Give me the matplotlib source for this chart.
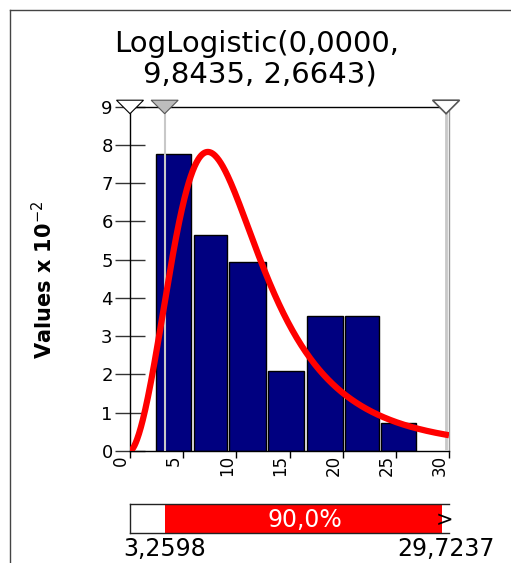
import matplotlib
matplotlib.use("Agg")
import matplotlib.pyplot as plt
import numpy as np
from matplotlib.lines import Line2D
from matplotlib.patches import Polygon
from matplotlib.transforms import blended_transform_factory, offset_copy

# fitted distribution parameters (from the title)
gamma_ = 0.0
beta_ = 9.8435
alpha_ = 2.6643

# histogram (values x 10^-2)
bin_edges = [2.35, 5.88, 9.22, 12.89, 16.51, 20.13, 23.47, 26.97]
bar_heights = [7.76, 5.65, 4.95, 2.09, 3.53, 3.53, 0.72]

# delimiters
left_mark = 3.2598
right_mark = 29.7237
mid_pct = 90.0

x_ticks = [0, 5, 10, 15, 20, 25, 30]
y_ticks = [0, 1, 2, 3, 4, 5, 6, 7, 8, 9]


def comma(v, nd=4):
    return f"{v:.{nd}f}".replace('.', ',')


plt.rcParams['font.family'] = ['DejaVu Sans']

fig = plt.figure(figsize=(5.11, 5.63), dpi=100)
ax = fig.add_axes([130 / 511, 1 - 451 / 563, 319 / 511, 344.3 / 563])

# bars
for i, h in enumerate(bar_heights):
    left = bin_edges[i] + 0.1
    w = bin_edges[i + 1] - bin_edges[i] - 0.2
    ax.bar(left, h, width=w, align='edge', color='#000080',
           edgecolor='black', linewidth=1, zorder=2)

# delimiter lines
ax.axvline(left_mark, color='#c8c8c8', lw=1.5, zorder=3)
ax.axvline(right_mark, color='#c8c8c8', lw=2, zorder=3)

# fitted curve
xs = np.linspace(0, 30, 500)
z = (xs - gamma_) / beta_
pdf = (alpha_ / beta_) * z ** (alpha_ - 1) / (1 + z ** alpha_) ** 2
ax.plot(xs, pdf * 100, color='red', lw=4.5, zorder=4, solid_capstyle='butt')

ax.set_xlim(0, 30)
ax.set_ylim(0, 9)

for s in ['left', 'top', 'bottom']:
    ax.spines[s].set_color('black')
    ax.spines[s].set_linewidth(1)
ax.spines['right'].set_color('#999999')
ax.spines['right'].set_linewidth(1)

ax.set_yticks(y_ticks)
ax.set_yticklabels([str(v) for v in y_ticks])
ax.tick_params(axis='y', direction='inout', length=22, width=1, color='#333333',
               labelsize=13, pad=1.5)

ax.set_xticks(x_ticks)
ax.set_xticklabels([str(v) for v in x_ticks], rotation=90, ha='right', va='top')
ax.tick_params(axis='x', direction='out', length=5, width=1, color='black',
               labelsize=12, pad=-2)

# delimiter triangles on top (x in data, y in pixels around the top edge)
trans = blended_transform_factory(ax.transData, ax.transAxes)


def triangle(xv, face, edge, lw):
    pts = []
    for dx, dy in [(-13.5, 6.5), (13.5, 6.5), (0, -7)]:
        t = offset_copy(trans, fig=fig, x=dx, y=dy, units='dots')
        pts.append(fig.transFigure.inverted().transform(t.transform((xv, 1.0))))
    p = Polygon(pts, closed=True, facecolor=face, edgecolor=edge, lw=lw,
                transform=fig.transFigure, zorder=10)
    fig.add_artist(p)


triangle(0, 'white', 'black', 0.8)
triangle(left_mark, '#bdbdbd', '#555555', 0.8)
triangle(right_mark, 'white', '#555555', 1.2)

# title
title1 = f"LogLogistic({comma(gamma_)},"
title2 = f"{comma(beta_)}, {comma(alpha_)})"
fig.text(257 / 511, 1 - 52 / 563, title1, ha='center', va='baseline', fontsize=21)
fig.text(260 / 511, 1 - 83 / 563, title2, ha='center', va='baseline', fontsize=21)

# y label
fig.text(44 / 511, 1 - 280 / 563, "Values x 10$^{-2}$", rotation=90,
         ha='center', va='center', fontsize=15, fontweight='bold')

# delimiter bar
bx = fig.add_axes([130 / 511, 1 - 533 / 563, 319 / 511, 29 / 563])
bx.set_xlim(0, 30)
bx.set_ylim(0, 1)
bx.axvspan(left_mark, right_mark - 0.4, color='red', lw=0)
bx.text((left_mark + right_mark) / 2, 0.45, f"{mid_pct:.1f}%".replace('.', ','),
        color='white', ha='center', va='center', fontsize=17)
bx.text(29.6, 0.45, ">", color='black', ha='center', va='center', fontsize=15)
bx.set_xticks([])
bx.set_yticks([])
bx.spines['right'].set_visible(False)
for s in ['left', 'top', 'bottom']:
    bx.spines[s].set_color('#222222')
    bx.spines[s].set_linewidth(1)

fig.text((130 + left_mark * 319 / 30) / 511, 1 - 537 / 563, comma(left_mark),
         ha='center', va='top', fontsize=17)
fig.text((130 + right_mark * 319 / 30) / 511, 1 - 537 / 563, comma(right_mark),
         ha='center', va='top', fontsize=17)

# outer frame (left and top edges)
fig.add_artist(Line2D([10 / 511, 10 / 511], [0, 1 - 10 / 563], color='#444444', lw=1))
fig.add_artist(Line2D([10 / 511, 1], [1 - 10 / 563, 1 - 10 / 563], color='#444444', lw=1))

fig.savefig("out.png", dpi=100)
